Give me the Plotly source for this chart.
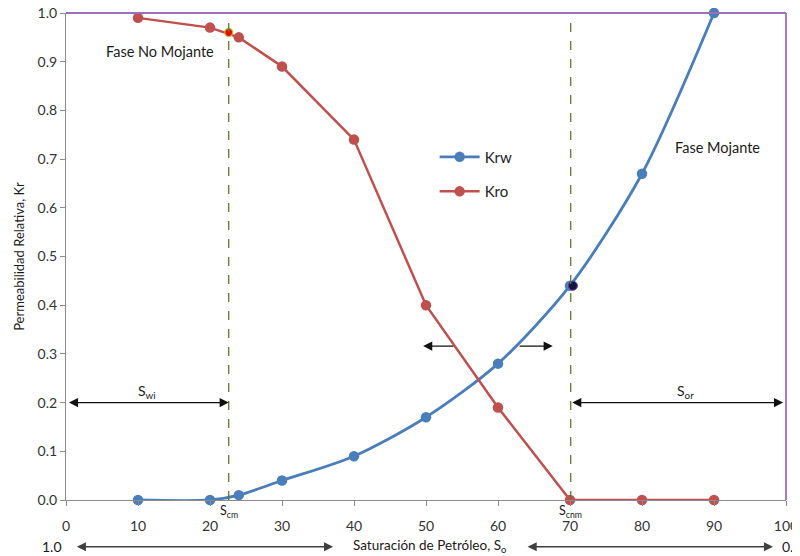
import plotly.graph_objects as go

# Data
so_krw = [10, 20, 24, 30, 40, 50, 60, 70, 80, 90]
krw = [0.0, 0.0, 0.01, 0.04, 0.09, 0.17, 0.28, 0.44, 0.67, 1.0]
so_kro = [10, 20, 24, 30, 40, 50, 60, 70, 80, 90]
kro = [0.99, 0.97, 0.95, 0.89, 0.74, 0.40, 0.19, 0.0, 0.0, 0.0]
s_cm = 22.6
kro_at_scm = 0.96
s_cnm = 70.4
krw_at_scnm = 0.44
x_ticks = [0, 10, 20, 30, 40, 50, 60, 70, 80, 90, 100]
y_ticks = [0.0, 0.1, 0.2, 0.3, 0.4, 0.5, 0.6, 0.7, 0.8, 0.9, 1.0]

BLUE = "#4A7EBB"
RED = "#C0504D"
OLIVE = "#5E7A2E"
PURPLE = "#9B6FC0"
TXT = "#1a1a1a"
FONT = "Lato"

fig = go.Figure()
fig.add_trace(go.Scatter(x=so_krw, y=krw, name="Krw", mode="lines+markers",
                         line=dict(color=BLUE, width=2.8, shape="spline", smoothing=0.8),
                         marker=dict(size=10.5, color=BLUE), legendgroup="a", cliponaxis=False))
fig.add_trace(go.Scatter(x=so_kro, y=kro, name="Kro", mode="lines+markers",
                         line=dict(color=RED, width=2.5),
                         marker=dict(size=10.5, color=RED), legendgroup="b", cliponaxis=False))
fig.add_trace(go.Scatter(x=[s_cm], y=[kro_at_scm], mode="markers", showlegend=False,
                         marker=dict(size=8, color="#FF0000", line=dict(color="#9ACD32", width=1.2)),
                         cliponaxis=False))
fig.add_trace(go.Scatter(x=[s_cnm], y=[krw_at_scnm], mode="markers", showlegend=False,
                         marker=dict(size=9, color="#101840", line=dict(color="#7030A0", width=1)),
                         cliponaxis=False))

shapes = [
    dict(type="line", xref="x", yref="y", x0=s_cm, x1=s_cm, y0=0, y1=1.0,
         line=dict(color=OLIVE, width=1.3, dash="dash")),
    dict(type="line", xref="x", yref="y", x0=70.1, x1=70.1, y0=0, y1=1.0,
         line=dict(color=OLIVE, width=1.3, dash="dash")),
    dict(type="line", xref="paper", yref="paper", x0=0, x1=1, y0=1, y1=1,
         line=dict(color=PURPLE, width=1.8)),
    dict(type="line", xref="paper", yref="paper", x0=1, x1=1, y0=0, y1=1,
         line=dict(color=PURPLE, width=1.8)),
]

def arrow(x0, x1, y, both=True, color="#111"):
    return dict(x=x1, y=y, ax=x0, ay=0, xref="x", yref="paper", axref="x", ayref="pixel",
                text="", showarrow=True, arrowhead=2, arrowsize=1.3, arrowwidth=1.4,
                arrowside="end+start" if both else "end", arrowcolor=color, standoff=0,
                startstandoff=0)

def label(x, y, text, size=14, xref="x", **kw):
    return dict(x=x, y=y, xref=xref, yref="paper", text=text, showarrow=False,
                xanchor=kw.pop("xanchor", "center"), yanchor="middle",
                font=dict(family=FONT, size=size, color=TXT), **kw)

annotations = [
    arrow(0.2, s_cm, 0.2),
    arrow(70.1, 99.6, 0.2),
    arrow(54.0, 49.6, 0.316, both=False),
    arrow(62.8, 67.6, 0.316, both=False),
    arrow(1.3, 37.1, -0.096, color="#404040"),
    arrow(63.9, 98.2, -0.096, color="#404040"),
    label(11.3, 0.222, "S<sub>wi</sub>"),
    label(86.0, 0.222, "S<sub>or</sub>"),
    label(s_cm, -0.024, "S<sub>cm</sub>", size=12.5),
    label(70.1, -0.024, "S<sub>cnm</sub>", size=12.5),
    label(13.0, 0.92, "Fase No Mojante", size=14.5),
    label(90.5, 0.723, "Fase Mojante", size=14.5),
    label(50.5, -0.094, "Saturación de Petróleo, S<sub>o</sub>", size=13.5),
    label(-0.019, -0.096, "1.0", xref="paper"),
    label(99.2, -0.096, "0.0", xanchor="left"),
]

# the page places the plot 8px in from the top-left corner, so size/margins compensate
fig.update_layout(
    width=792, height=548,
    margin=dict(l=58, r=14, t=5, b=56),
    paper_bgcolor="white", plot_bgcolor="white",
    font=dict(family=FONT, color="#404040", size=14),
    shapes=shapes, annotations=annotations,
    legend=dict(x=0.512, y=0.738, xanchor="left", yanchor="top", bgcolor="rgba(0,0,0,0)",
                font=dict(family=FONT, size=15, color="#222"), tracegroupgap=12,
                traceorder="grouped", itemwidth=40),
    xaxis=dict(range=[0, 100], tickvals=x_ticks, showgrid=False, zeroline=False,
               showline=True, linecolor="#8c8c8c", linewidth=1.2, ticks="outside",
               ticklen=5, tickcolor="#8c8c8c", tickfont=dict(size=14, color="#333"),
               ticklabelstandoff=8, automargin=False, ticklabeloverflow="allow"),
    yaxis=dict(range=[0, 1.0], tickvals=y_ticks, tickformat=".1f", showgrid=False,
               zeroline=False, showline=True, linecolor="#8c8c8c", linewidth=1.2,
               ticks="outside", ticklen=5, tickcolor="#8c8c8c",
               tickfont=dict(size=14, color="#333"), automargin=False,
               ticklabeloverflow="allow",
               title=dict(text="Permeabilidad Relativa, Kr", standoff=10,
                          font=dict(family=FONT, size=13, color=TXT))),
)

fig.write_html("out.html")
